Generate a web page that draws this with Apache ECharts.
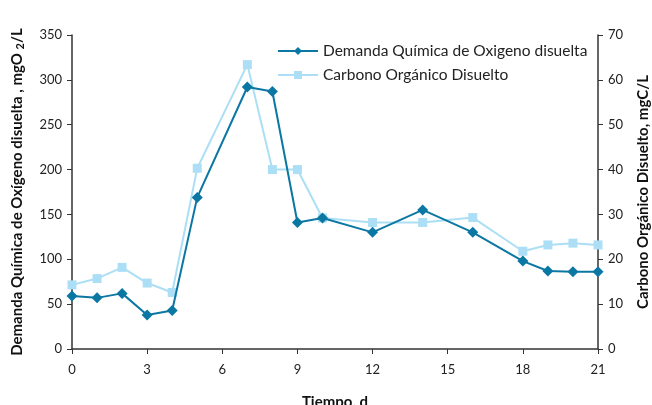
<!DOCTYPE html>
<html>
<head>
<meta charset="utf-8">
<script src="https://cdn.jsdelivr.net/npm/echarts@6/dist/echarts.min.js"></script>
<style>
  html, body { margin: 0; padding: 0; background: #ffffff; }
  #chart { width: 652px; height: 405px; }
</style>
</head>
<body>
<div id="chart"></div>
<script>
// Sampling days
const days = [0, 1, 2, 3, 4, 5, 7, 8, 9, 10, 12, 14, 16, 18, 19, 20, 21];
// Demanda Química de Oxígeno disuelta (mgO2/L), left axis
const dqo = [59, 57, 62, 38, 43, 169, 292, 287, 141, 146, 130, 155, 130, 98, 87, 86, 86];
// Carbono Orgánico Disuelto (mgC/L), right axis
const cot = [14.3, 15.7, 18.2, 14.7, 12.6, 40.3, 63.4, 40.0, 40.0, 29.2, 28.2, 28.2, 29.3, 21.8, 23.2, 23.6, 23.2];

const seriesNames = ['Demanda Química de Oxigeno disuelta', 'Carbono Orgánico Disuelto'];

const FONT = 'Lato';
const AXIS_COLOR = '#333333';
const DARK = '#0b77a3';
const LIGHT = '#acdff6';

function pairs(xs, ys) {
  return xs.map((x, i) => [x, ys[i]]);
}

const axisCommon = {
  axisLine: { show: true, lineStyle: { color: AXIS_COLOR, width: 1.5 } },
  axisTick: { show: true, length: 5, lineStyle: { color: AXIS_COLOR, width: 1 } },
  axisLabel: { color: '#222', fontFamily: FONT, fontSize: 13 },
  splitLine: { show: false }
};

const titleStyle = { fontFamily: FONT, fontSize: 15, fontWeight: 'bold', color: '#111' };

const chart = echarts.init(document.getElementById('chart'), null, { renderer: 'canvas' });
chart.setOption({
  animation: false,
  backgroundColor: '#ffffff',
  grid: { left: 72, right: 54, top: 35, bottom: 56, containLabel: false, outerBoundsMode: 'none' },
  legend: {
    orient: 'vertical',
    left: 272,
    top: 38,
    itemWidth: 40,
    itemHeight: 10,
    itemGap: 8,
    textStyle: { fontFamily: FONT, fontSize: 15.5, color: '#222' },
    data: seriesNames
  },
  xAxis: Object.assign({}, axisCommon, {
    type: 'value',
    min: 0,
    max: 21,
    interval: 3,
    name: 'Tiempo, d',
    nameLocation: 'middle',
    nameGap: 46,
    nameTextStyle: titleStyle,
    axisLabel: { color: '#222', fontFamily: FONT, fontSize: 13, margin: 14 }
  }),
  yAxis: [
    Object.assign({}, axisCommon, {
      type: 'value',
      position: 'left',
      min: 0,
      max: 350,
      interval: 50,
      name: 'Demanda Química de Oxígeno disuelta , mgO {sub|2}/L',
      nameLocation: 'middle',
      nameRotate: 90,
      nameGap: 46,
      nameTextStyle: Object.assign({}, titleStyle, {
        rich: { sub: { fontFamily: FONT, fontSize: 11, fontWeight: 'bold', color: '#111', verticalAlign: 'bottom', padding: [6, 0, 0, 0] } }
      }),
      axisLabel: { color: '#222', fontFamily: FONT, fontSize: 13, margin: 10 }
    }),
    Object.assign({}, axisCommon, {
      type: 'value',
      position: 'right',
      min: 0,
      max: 70,
      interval: 10,
      name: 'Carbono Orgánico Disuelto, mgC/L',
      nameLocation: 'middle',
      nameRotate: 90,
      nameGap: 38,
      nameTextStyle: titleStyle,
      axisLabel: { color: '#222', fontFamily: FONT, fontSize: 13, margin: 10 }
    })
  ],
  series: [
    {
      name: seriesNames[1],
      type: 'line',
      yAxisIndex: 1,
      data: pairs(days, cot),
      symbol: 'rect',
      symbolSize: 9,
      lineStyle: { color: LIGHT, width: 2 },
      itemStyle: { color: LIGHT },
      z: 2
    },
    {
      name: seriesNames[0],
      type: 'line',
      yAxisIndex: 0,
      data: pairs(days, dqo),
      symbol: 'diamond',
      symbolSize: 11,
      lineStyle: { color: DARK, width: 2 },
      itemStyle: { color: DARK },
      z: 3
    }
  ]
});
</script>
</body>
</html>
